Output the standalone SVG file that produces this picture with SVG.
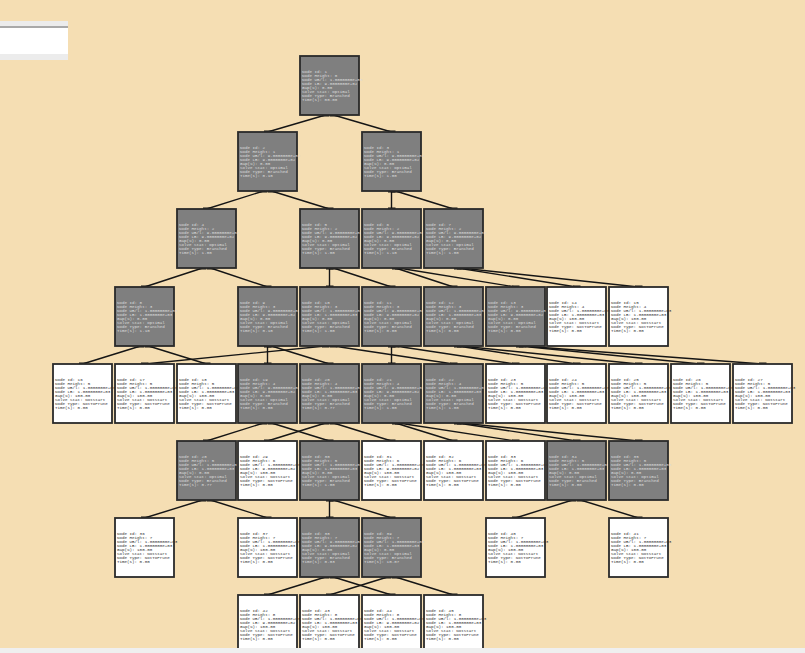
<svg xmlns="http://www.w3.org/2000/svg" width="805" height="653" viewBox="0 0 805 653">
<style>
.n rect{stroke:#2a2a2a;stroke-width:1.8}
.gy rect{fill:#7f7f7f}
.wh rect{fill:#ffffff}
.n text{font-family:"Liberation Mono",monospace;font-size:4.2px}
.gy text{fill:#dcdcdc}
.wh text{fill:#333333}
#edges path{stroke:#151515;stroke-width:1.4;fill:none;marker-start:url(#tk);marker-end:url(#tk)}
</style>
<defs>
<marker id="tk" markerUnits="userSpaceOnUse" markerWidth="8" markerHeight="4" refX="4" refY="2" orient="0"><rect x="0" y="0.5" width="8" height="3" fill="#111"/></marker>
</defs>
<rect width="805" height="653" fill="#f5deb3"/>
<g id="widget">
<rect x="0" y="21" width="68" height="39" fill="#ffffff"/>
<rect x="0" y="21" width="68" height="5" fill="#ececec"/>
<rect x="0" y="26" width="68" height="2" fill="#a9a9a9"/>
<rect x="0" y="54" width="68" height="6" fill="#ececec"/>
</g>
<g id="edges">
<path d="M325.5 115L267.5 132"/><path d="M333.5 115L391.5 132"/>
<path d="M263.5 191L206.5 209"/><path d="M271.5 191L329.5 209"/>
<path d="M391.5 191L391.5 209"/><path d="M395.5 191L453.5 209"/>
<path d="M202.5 268L144.5 287"/><path d="M210.5 268L267.5 287"/>
<path d="M329.5 268L329.5 287"/><path d="M333.5 268L391.5 287"/>
<path d="M395.5 268L453.5 287"/><path d="M398.5 268L515.5 287"/>
<path d="M457.5 268L576.5 287"/><path d="M460.5 268L638.5 287"/>
<path d="M140.5 346L82.5 364"/><path d="M148.5 346L206.5 364"/>
<path d="M267.5 346L267.5 364"/><path d="M271.5 346L329.5 364"/>
<path d="M325.5 346L144.5 364"/><path d="M333.5 346L453.5 364"/>
<path d="M391.5 346L391.5 364"/><path d="M395.5 346L515.5 364"/>
<path d="M457.5 346L576.5 364"/><path d="M460.5 346L638.5 364"/>
<path d="M519.5 346L700.5 364"/><path d="M522.5 346L762.5 364"/>
<path d="M263.5 423L206.5 441"/><path d="M271.5 423L329.5 441"/>
<path d="M325.5 423L267.5 441"/><path d="M333.5 423L391.5 441"/>
<path d="M395.5 423L453.5 441"/><path d="M398.5 423L515.5 441"/>
<path d="M457.5 423L576.5 441"/><path d="M460.5 423L638.5 441"/>
<path d="M202.5 500L144.5 518"/><path d="M210.5 500L267.5 518"/>
<path d="M329.5 500L329.5 518"/><path d="M333.5 500L391.5 518"/>
<path d="M572.5 500L515.5 518"/><path d="M580.5 500L638.5 518"/>
<path d="M325.5 577L267.5 595"/><path d="M333.5 577L391.5 595"/>
<path d="M387.5 577L329.5 595"/><path d="M395.5 577L453.5 595"/>
</g>
<g id="n1" class="n gy" transform="translate(300,56)"><rect width="59" height="59"/><text y="17"><tspan x="2">Node Id: 1</tspan><tspan x="2" dy="4">Node Height: 0</tspan><tspan x="2" dy="4">Node UB/l: 1.0000000e+03</tspan><tspan x="2" dy="4">Node LB: 9.0000000e+02</tspan><tspan x="2" dy="4">Gap(%): 0.00</tspan><tspan x="2" dy="4">Solve Stat: Optimal</tspan><tspan x="2" dy="4">Node Type: Branched</tspan><tspan x="2" dy="4">Time(s): 00.00</tspan></text></g>
<g id="n2" class="n gy" transform="translate(238,132)"><rect width="59" height="59"/><text y="17"><tspan x="2">Node Id: 2</tspan><tspan x="2" dy="4">Node Height: 1</tspan><tspan x="2" dy="4">Node UB/l: 9.0000000e+02</tspan><tspan x="2" dy="4">Node LB: 9.0000000e+02</tspan><tspan x="2" dy="4">Gap(%): 0.00</tspan><tspan x="2" dy="4">Solve Stat: Optimal</tspan><tspan x="2" dy="4">Node Type: Branched</tspan><tspan x="2" dy="4">Time(s): 0.10</tspan></text></g>
<g id="n3" class="n gy" transform="translate(362,132)"><rect width="59" height="59"/><text y="17"><tspan x="2">Node Id: 3</tspan><tspan x="2" dy="4">Node Height: 1</tspan><tspan x="2" dy="4">Node UB/l: 9.0000000e+02</tspan><tspan x="2" dy="4">Node LB: 9.0000000e+02</tspan><tspan x="2" dy="4">Gap(%): 0.00</tspan><tspan x="2" dy="4">Solve Stat: Optimal</tspan><tspan x="2" dy="4">Node Type: Branched</tspan><tspan x="2" dy="4">Time(s): 1.00</tspan></text></g>
<g id="n4" class="n gy" transform="translate(177,209)"><rect width="59" height="59"/><text y="17"><tspan x="2">Node Id: 4</tspan><tspan x="2" dy="4">Node Height: 2</tspan><tspan x="2" dy="4">Node UB/l: 9.0000000e+02</tspan><tspan x="2" dy="4">Node LB: 9.0000000e+02</tspan><tspan x="2" dy="4">Gap(%): 0.00</tspan><tspan x="2" dy="4">Solve Stat: Optimal</tspan><tspan x="2" dy="4">Node Type: Branched</tspan><tspan x="2" dy="4">Time(s): 1.00</tspan></text></g>
<g id="n5" class="n gy" transform="translate(300,209)"><rect width="59" height="59"/><text y="17"><tspan x="2">Node Id: 5</tspan><tspan x="2" dy="4">Node Height: 2</tspan><tspan x="2" dy="4">Node UB/l: 9.0000000e+02</tspan><tspan x="2" dy="4">Node LB: 9.0000000e+02</tspan><tspan x="2" dy="4">Gap(%): 0.00</tspan><tspan x="2" dy="4">Solve Stat: Optimal</tspan><tspan x="2" dy="4">Node Type: Branched</tspan><tspan x="2" dy="4">Time(s): 1.00</tspan></text></g>
<g id="n6" class="n gy" transform="translate(362,209)"><rect width="59" height="59"/><text y="17"><tspan x="2">Node Id: 6</tspan><tspan x="2" dy="4">Node Height: 2</tspan><tspan x="2" dy="4">Node UB/l: 9.0000000e+02</tspan><tspan x="2" dy="4">Node LB: 9.0000000e+02</tspan><tspan x="2" dy="4">Gap(%): 0.00</tspan><tspan x="2" dy="4">Solve Stat: Optimal</tspan><tspan x="2" dy="4">Node Type: Branched</tspan><tspan x="2" dy="4">Time(s): 1.10</tspan></text></g>
<g id="n7" class="n gy" transform="translate(424,209)"><rect width="59" height="59"/><text y="17"><tspan x="2">Node Id: 7</tspan><tspan x="2" dy="4">Node Height: 2</tspan><tspan x="2" dy="4">Node UB/l: 9.0000000e+02</tspan><tspan x="2" dy="4">Node LB: 9.0000000e+02</tspan><tspan x="2" dy="4">Gap(%): 0.00</tspan><tspan x="2" dy="4">Solve Stat: Optimal</tspan><tspan x="2" dy="4">Node Type: Branched</tspan><tspan x="2" dy="4">Time(s): 1.00</tspan></text></g>
<g id="n8" class="n gy" transform="translate(115,287)"><rect width="59" height="59"/><text y="17"><tspan x="2">Node Id: 8</tspan><tspan x="2" dy="4">Node Height: 3</tspan><tspan x="2" dy="4">Node UB/l: 1.0000000e+03</tspan><tspan x="2" dy="4">Node LB: 1.0000000e+03</tspan><tspan x="2" dy="4">Gap(%): 0.00</tspan><tspan x="2" dy="4">Solve Stat: Optimal</tspan><tspan x="2" dy="4">Node Type: Branched</tspan><tspan x="2" dy="4">Time(s): 1.10</tspan></text></g>
<g id="n9" class="n gy" transform="translate(238,287)"><rect width="59" height="59"/><text y="17"><tspan x="2">Node Id: 9</tspan><tspan x="2" dy="4">Node Height: 3</tspan><tspan x="2" dy="4">Node UB/l: 9.0000000e+02</tspan><tspan x="2" dy="4">Node LB: 9.0000000e+02</tspan><tspan x="2" dy="4">Gap(%): 0.00</tspan><tspan x="2" dy="4">Solve Stat: Optimal</tspan><tspan x="2" dy="4">Node Type: Branched</tspan><tspan x="2" dy="4">Time(s): 0.10</tspan></text></g>
<g id="n10" class="n gy" transform="translate(300,287)"><rect width="59" height="59"/><text y="17"><tspan x="2">Node Id: 10</tspan><tspan x="2" dy="4">Node Height: 3</tspan><tspan x="2" dy="4">Node UB/l: 1.0000000e+03</tspan><tspan x="2" dy="4">Node LB: 1.0000000e+03</tspan><tspan x="2" dy="4">Gap(%): 0.00</tspan><tspan x="2" dy="4">Solve Stat: Optimal</tspan><tspan x="2" dy="4">Node Type: Branched</tspan><tspan x="2" dy="4">Time(s): 1.00</tspan></text></g>
<g id="n11" class="n gy" transform="translate(362,287)"><rect width="59" height="59"/><text y="17"><tspan x="2">Node Id: 11</tspan><tspan x="2" dy="4">Node Height: 3</tspan><tspan x="2" dy="4">Node UB/l: 9.0000000e+02</tspan><tspan x="2" dy="4">Node LB: 9.0000000e+02</tspan><tspan x="2" dy="4">Gap(%): 0.00</tspan><tspan x="2" dy="4">Solve Stat: Optimal</tspan><tspan x="2" dy="4">Node Type: Branched</tspan><tspan x="2" dy="4">Time(s): 0.00</tspan></text></g>
<g id="n12" class="n gy" transform="translate(424,287)"><rect width="59" height="59"/><text y="17"><tspan x="2">Node Id: 12</tspan><tspan x="2" dy="4">Node Height: 3</tspan><tspan x="2" dy="4">Node UB/l: 1.0000000e+03</tspan><tspan x="2" dy="4">Node LB: 1.0000000e+03</tspan><tspan x="2" dy="4">Gap(%): 0.00</tspan><tspan x="2" dy="4">Solve Stat: Optimal</tspan><tspan x="2" dy="4">Node Type: Branched</tspan><tspan x="2" dy="4">Time(s): 0.00</tspan></text></g>
<g id="n13" class="n gy" transform="translate(486,287)"><rect width="59" height="59"/><text y="17"><tspan x="2">Node Id: 13</tspan><tspan x="2" dy="4">Node Height: 3</tspan><tspan x="2" dy="4">Node UB/l: 9.0000000e+02</tspan><tspan x="2" dy="4">Node LB: 9.0000000e+02</tspan><tspan x="2" dy="4">Gap(%): 0.00</tspan><tspan x="2" dy="4">Solve Stat: Optimal</tspan><tspan x="2" dy="4">Node Type: Branched</tspan><tspan x="2" dy="4">Time(s): 0.00</tspan></text></g>
<g id="n14" class="n wh" transform="translate(547,287)"><rect width="59" height="59"/><text y="17"><tspan x="2">Node Id: 14</tspan><tspan x="2" dy="4">Node Height: 4</tspan><tspan x="2" dy="4">Node UB/l: 1.0000000e+03</tspan><tspan x="2" dy="4">Node LB: 1.0000000e+03</tspan><tspan x="2" dy="4">Gap(%): 100.00</tspan><tspan x="2" dy="4">Solve Stat: NotStart</tspan><tspan x="2" dy="4">Node Type: NotToPrune</tspan><tspan x="2" dy="4">Time(s): 0.00</tspan></text></g>
<g id="n15" class="n wh" transform="translate(609,287)"><rect width="59" height="59"/><text y="17"><tspan x="2">Node Id: 15</tspan><tspan x="2" dy="4">Node Height: 4</tspan><tspan x="2" dy="4">Node UB/l: 1.0000000e+03</tspan><tspan x="2" dy="4">Node LB: 1.0000000e+03</tspan><tspan x="2" dy="4">Gap(%): 100.00</tspan><tspan x="2" dy="4">Solve Stat: NotStart</tspan><tspan x="2" dy="4">Node Type: NotToPrune</tspan><tspan x="2" dy="4">Time(s): 0.00</tspan></text></g>
<g id="n16" class="n wh" transform="translate(53,364)"><rect width="59" height="59"/><text y="17"><tspan x="2">Node Id: 16</tspan><tspan x="2" dy="4">Node Height: 5</tspan><tspan x="2" dy="4">Node UB/l: 1.0000000e+03</tspan><tspan x="2" dy="4">Node LB: 1.0000000e+03</tspan><tspan x="2" dy="4">Gap(%): 100.00</tspan><tspan x="2" dy="4">Solve Stat: NotStart</tspan><tspan x="2" dy="4">Node Type: NotToPrune</tspan><tspan x="2" dy="4">Time(s): 0.00</tspan></text></g>
<g id="n17" class="n wh" transform="translate(115,364)"><rect width="59" height="59"/><text y="17"><tspan x="2">Node Id: 17</tspan><tspan x="2" dy="4">Node Height: 5</tspan><tspan x="2" dy="4">Node UB/l: 1.0000000e+03</tspan><tspan x="2" dy="4">Node LB: 1.0000000e+03</tspan><tspan x="2" dy="4">Gap(%): 100.00</tspan><tspan x="2" dy="4">Solve Stat: NotStart</tspan><tspan x="2" dy="4">Node Type: NotToPrune</tspan><tspan x="2" dy="4">Time(s): 0.00</tspan></text></g>
<g id="n18" class="n wh" transform="translate(177,364)"><rect width="59" height="59"/><text y="17"><tspan x="2">Node Id: 18</tspan><tspan x="2" dy="4">Node Height: 5</tspan><tspan x="2" dy="4">Node UB/l: 1.0000000e+03</tspan><tspan x="2" dy="4">Node LB: 1.0000000e+03</tspan><tspan x="2" dy="4">Gap(%): 100.00</tspan><tspan x="2" dy="4">Solve Stat: NotStart</tspan><tspan x="2" dy="4">Node Type: NotToPrune</tspan><tspan x="2" dy="4">Time(s): 0.00</tspan></text></g>
<g id="n19" class="n gy" transform="translate(238,364)"><rect width="59" height="59"/><text y="17"><tspan x="2">Node Id: 19</tspan><tspan x="2" dy="4">Node Height: 4</tspan><tspan x="2" dy="4">Node UB/l: 9.0000000e+02</tspan><tspan x="2" dy="4">Node LB: 9.0000000e+02</tspan><tspan x="2" dy="4">Gap(%): 0.00</tspan><tspan x="2" dy="4">Solve Stat: Optimal</tspan><tspan x="2" dy="4">Node Type: Branched</tspan><tspan x="2" dy="4">Time(s): 0.00</tspan></text></g>
<g id="n20" class="n gy" transform="translate(300,364)"><rect width="59" height="59"/><text y="17"><tspan x="2">Node Id: 20</tspan><tspan x="2" dy="4">Node Height: 4</tspan><tspan x="2" dy="4">Node UB/l: 1.0000000e+03</tspan><tspan x="2" dy="4">Node LB: 1.0000000e+03</tspan><tspan x="2" dy="4">Gap(%): 0.00</tspan><tspan x="2" dy="4">Solve Stat: Optimal</tspan><tspan x="2" dy="4">Node Type: Branched</tspan><tspan x="2" dy="4">Time(s): 0.77</tspan></text></g>
<g id="n21" class="n gy" transform="translate(362,364)"><rect width="59" height="59"/><text y="17"><tspan x="2">Node Id: 21</tspan><tspan x="2" dy="4">Node Height: 4</tspan><tspan x="2" dy="4">Node UB/l: 9.0000000e+02</tspan><tspan x="2" dy="4">Node LB: 9.0000000e+02</tspan><tspan x="2" dy="4">Gap(%): 0.00</tspan><tspan x="2" dy="4">Solve Stat: Optimal</tspan><tspan x="2" dy="4">Node Type: Branched</tspan><tspan x="2" dy="4">Time(s): 1.00</tspan></text></g>
<g id="n22" class="n gy" transform="translate(424,364)"><rect width="59" height="59"/><text y="17"><tspan x="2">Node Id: 22</tspan><tspan x="2" dy="4">Node Height: 4</tspan><tspan x="2" dy="4">Node UB/l: 1.0000000e+03</tspan><tspan x="2" dy="4">Node LB: 1.0000000e+03</tspan><tspan x="2" dy="4">Gap(%): 0.00</tspan><tspan x="2" dy="4">Solve Stat: Optimal</tspan><tspan x="2" dy="4">Node Type: Branched</tspan><tspan x="2" dy="4">Time(s): 1.00</tspan></text></g>
<g id="n23" class="n wh" transform="translate(486,364)"><rect width="59" height="59"/><text y="17"><tspan x="2">Node Id: 23</tspan><tspan x="2" dy="4">Node Height: 5</tspan><tspan x="2" dy="4">Node UB/l: 1.0000000e+03</tspan><tspan x="2" dy="4">Node LB: 1.0000000e+03</tspan><tspan x="2" dy="4">Gap(%): 100.00</tspan><tspan x="2" dy="4">Solve Stat: NotStart</tspan><tspan x="2" dy="4">Node Type: NotToPrune</tspan><tspan x="2" dy="4">Time(s): 0.00</tspan></text></g>
<g id="n24" class="n wh" transform="translate(547,364)"><rect width="59" height="59"/><text y="17"><tspan x="2">Node Id: 24</tspan><tspan x="2" dy="4">Node Height: 5</tspan><tspan x="2" dy="4">Node UB/l: 1.0000000e+03</tspan><tspan x="2" dy="4">Node LB: 1.0000000e+03</tspan><tspan x="2" dy="4">Gap(%): 100.00</tspan><tspan x="2" dy="4">Solve Stat: NotStart</tspan><tspan x="2" dy="4">Node Type: NotToPrune</tspan><tspan x="2" dy="4">Time(s): 0.00</tspan></text></g>
<g id="n25" class="n wh" transform="translate(609,364)"><rect width="59" height="59"/><text y="17"><tspan x="2">Node Id: 25</tspan><tspan x="2" dy="4">Node Height: 5</tspan><tspan x="2" dy="4">Node UB/l: 1.0000000e+03</tspan><tspan x="2" dy="4">Node LB: 1.0000000e+03</tspan><tspan x="2" dy="4">Gap(%): 100.00</tspan><tspan x="2" dy="4">Solve Stat: NotStart</tspan><tspan x="2" dy="4">Node Type: NotToPrune</tspan><tspan x="2" dy="4">Time(s): 0.00</tspan></text></g>
<g id="n26" class="n wh" transform="translate(671,364)"><rect width="59" height="59"/><text y="17"><tspan x="2">Node Id: 26</tspan><tspan x="2" dy="4">Node Height: 5</tspan><tspan x="2" dy="4">Node UB/l: 1.0000000e+03</tspan><tspan x="2" dy="4">Node LB: 1.0000000e+03</tspan><tspan x="2" dy="4">Gap(%): 100.00</tspan><tspan x="2" dy="4">Solve Stat: NotStart</tspan><tspan x="2" dy="4">Node Type: NotToPrune</tspan><tspan x="2" dy="4">Time(s): 0.00</tspan></text></g>
<g id="n27" class="n wh" transform="translate(733,364)"><rect width="59" height="59"/><text y="17"><tspan x="2">Node Id: 27</tspan><tspan x="2" dy="4">Node Height: 5</tspan><tspan x="2" dy="4">Node UB/l: 1.0000000e+03</tspan><tspan x="2" dy="4">Node LB: 1.0000000e+03</tspan><tspan x="2" dy="4">Gap(%): 100.00</tspan><tspan x="2" dy="4">Solve Stat: NotStart</tspan><tspan x="2" dy="4">Node Type: NotToPrune</tspan><tspan x="2" dy="4">Time(s): 0.00</tspan></text></g>
<g id="n28" class="n gy" transform="translate(177,441)"><rect width="59" height="59"/><text y="17"><tspan x="2">Node Id: 28</tspan><tspan x="2" dy="4">Node Height: 5</tspan><tspan x="2" dy="4">Node UB/l: 1.0000000e+03</tspan><tspan x="2" dy="4">Node LB: 1.0000000e+03</tspan><tspan x="2" dy="4">Gap(%): 0.00</tspan><tspan x="2" dy="4">Solve Stat: Optimal</tspan><tspan x="2" dy="4">Node Type: Branched</tspan><tspan x="2" dy="4">Time(s): 0.77</tspan></text></g>
<g id="n29" class="n wh" transform="translate(238,441)"><rect width="59" height="59"/><text y="17"><tspan x="2">Node Id: 29</tspan><tspan x="2" dy="4">Node Height: 6</tspan><tspan x="2" dy="4">Node UB/l: 1.0000000e+03</tspan><tspan x="2" dy="4">Node LB: 9.0000000e+02</tspan><tspan x="2" dy="4">Gap(%): 100.00</tspan><tspan x="2" dy="4">Solve Stat: NotStart</tspan><tspan x="2" dy="4">Node Type: NotToPrune</tspan><tspan x="2" dy="4">Time(s): 0.00</tspan></text></g>
<g id="n30" class="n gy" transform="translate(300,441)"><rect width="59" height="59"/><text y="17"><tspan x="2">Node Id: 30</tspan><tspan x="2" dy="4">Node Height: 5</tspan><tspan x="2" dy="4">Node UB/l: 1.0000000e+03</tspan><tspan x="2" dy="4">Node LB: 1.0000000e+03</tspan><tspan x="2" dy="4">Gap(%): 0.00</tspan><tspan x="2" dy="4">Solve Stat: Optimal</tspan><tspan x="2" dy="4">Node Type: Branched</tspan><tspan x="2" dy="4">Time(s): 1.00</tspan></text></g>
<g id="n31" class="n wh" transform="translate(362,441)"><rect width="59" height="59"/><text y="17"><tspan x="2">Node Id: 31</tspan><tspan x="2" dy="4">Node Height: 6</tspan><tspan x="2" dy="4">Node UB/l: 1.0000000e+03</tspan><tspan x="2" dy="4">Node LB: 9.0000000e+02</tspan><tspan x="2" dy="4">Gap(%): 100.00</tspan><tspan x="2" dy="4">Solve Stat: NotStart</tspan><tspan x="2" dy="4">Node Type: NotToPrune</tspan><tspan x="2" dy="4">Time(s): 0.00</tspan></text></g>
<g id="n32" class="n wh" transform="translate(424,441)"><rect width="59" height="59"/><text y="17"><tspan x="2">Node Id: 32</tspan><tspan x="2" dy="4">Node Height: 6</tspan><tspan x="2" dy="4">Node UB/l: 1.0000000e+03</tspan><tspan x="2" dy="4">Node LB: 1.0000000e+03</tspan><tspan x="2" dy="4">Gap(%): 100.00</tspan><tspan x="2" dy="4">Solve Stat: NotStart</tspan><tspan x="2" dy="4">Node Type: NotToPrune</tspan><tspan x="2" dy="4">Time(s): 0.00</tspan></text></g>
<g id="n33" class="n wh" transform="translate(486,441)"><rect width="59" height="59"/><text y="17"><tspan x="2">Node Id: 33</tspan><tspan x="2" dy="4">Node Height: 6</tspan><tspan x="2" dy="4">Node UB/l: 1.0000000e+03</tspan><tspan x="2" dy="4">Node LB: 1.0000000e+03</tspan><tspan x="2" dy="4">Gap(%): 100.00</tspan><tspan x="2" dy="4">Solve Stat: NotStart</tspan><tspan x="2" dy="4">Node Type: NotToPrune</tspan><tspan x="2" dy="4">Time(s): 0.00</tspan></text></g>
<g id="n34" class="n gy" transform="translate(547,441)"><rect width="59" height="59"/><text y="17"><tspan x="2">Node Id: 34</tspan><tspan x="2" dy="4">Node Height: 5</tspan><tspan x="2" dy="4">Node UB/l: 1.0000000e+03</tspan><tspan x="2" dy="4">Node LB: 1.0000000e+03</tspan><tspan x="2" dy="4">Gap(%): 0.00</tspan><tspan x="2" dy="4">Solve Stat: Optimal</tspan><tspan x="2" dy="4">Node Type: Branched</tspan><tspan x="2" dy="4">Time(s): 0.00</tspan></text></g>
<g id="n35" class="n gy" transform="translate(609,441)"><rect width="59" height="59"/><text y="17"><tspan x="2">Node Id: 35</tspan><tspan x="2" dy="4">Node Height: 5</tspan><tspan x="2" dy="4">Node UB/l: 1.0000000e+03</tspan><tspan x="2" dy="4">Node LB: 1.0000000e+03</tspan><tspan x="2" dy="4">Gap(%): 0.00</tspan><tspan x="2" dy="4">Solve Stat: Optimal</tspan><tspan x="2" dy="4">Node Type: Branched</tspan><tspan x="2" dy="4">Time(s): 0.00</tspan></text></g>
<g id="n36" class="n wh" transform="translate(115,518)"><rect width="59" height="59"/><text y="17"><tspan x="2">Node Id: 36</tspan><tspan x="2" dy="4">Node Height: 7</tspan><tspan x="2" dy="4">Node UB/l: 1.0000000e+03</tspan><tspan x="2" dy="4">Node LB: 1.0000000e+03</tspan><tspan x="2" dy="4">Gap(%): 100.00</tspan><tspan x="2" dy="4">Solve Stat: NotStart</tspan><tspan x="2" dy="4">Node Type: NotToPrune</tspan><tspan x="2" dy="4">Time(s): 0.00</tspan></text></g>
<g id="n37" class="n wh" transform="translate(238,518)"><rect width="59" height="59"/><text y="17"><tspan x="2">Node Id: 37</tspan><tspan x="2" dy="4">Node Height: 7</tspan><tspan x="2" dy="4">Node UB/l: 1.0000000e+03</tspan><tspan x="2" dy="4">Node LB: 1.0000000e+03</tspan><tspan x="2" dy="4">Gap(%): 100.00</tspan><tspan x="2" dy="4">Solve Stat: NotStart</tspan><tspan x="2" dy="4">Node Type: NotToPrune</tspan><tspan x="2" dy="4">Time(s): 0.00</tspan></text></g>
<g id="n38" class="n gy" transform="translate(300,518)"><rect width="59" height="59"/><text y="17"><tspan x="2">Node Id: 38</tspan><tspan x="2" dy="4">Node Height: 7</tspan><tspan x="2" dy="4">Node UB/l: 9.0000000e+02</tspan><tspan x="2" dy="4">Node LB: 9.0000000e+02</tspan><tspan x="2" dy="4">Gap(%): 0.00</tspan><tspan x="2" dy="4">Solve Stat: Optimal</tspan><tspan x="2" dy="4">Node Type: Branched</tspan><tspan x="2" dy="4">Time(s): 0.03</tspan></text></g>
<g id="n39" class="n gy" transform="translate(362,518)"><rect width="59" height="59"/><text y="17"><tspan x="2">Node Id: 39</tspan><tspan x="2" dy="4">Node Height: 7</tspan><tspan x="2" dy="4">Node UB/l: 1.0000000e+03</tspan><tspan x="2" dy="4">Node LB: 1.0000000e+03</tspan><tspan x="2" dy="4">Gap(%): 0.00</tspan><tspan x="2" dy="4">Solve Stat: Optimal</tspan><tspan x="2" dy="4">Node Type: Branched</tspan><tspan x="2" dy="4">Time(s): 10.07</tspan></text></g>
<g id="n40" class="n wh" transform="translate(486,518)"><rect width="59" height="59"/><text y="17"><tspan x="2">Node Id: 40</tspan><tspan x="2" dy="4">Node Height: 7</tspan><tspan x="2" dy="4">Node UB/l: 1.0000000e+03</tspan><tspan x="2" dy="4">Node LB: 1.0000000e+03</tspan><tspan x="2" dy="4">Gap(%): 100.00</tspan><tspan x="2" dy="4">Solve Stat: NotStart</tspan><tspan x="2" dy="4">Node Type: NotToPrune</tspan><tspan x="2" dy="4">Time(s): 0.00</tspan></text></g>
<g id="n41" class="n wh" transform="translate(609,518)"><rect width="59" height="59"/><text y="17"><tspan x="2">Node Id: 41</tspan><tspan x="2" dy="4">Node Height: 7</tspan><tspan x="2" dy="4">Node UB/l: 1.0000000e+03</tspan><tspan x="2" dy="4">Node LB: 1.0000000e+03</tspan><tspan x="2" dy="4">Gap(%): 100.00</tspan><tspan x="2" dy="4">Solve Stat: NotStart</tspan><tspan x="2" dy="4">Node Type: NotToPrune</tspan><tspan x="2" dy="4">Time(s): 0.00</tspan></text></g>
<g id="n42" class="n wh" transform="translate(238,595)"><rect width="59" height="59"/><text y="17"><tspan x="2">Node Id: 42</tspan><tspan x="2" dy="4">Node Height: 8</tspan><tspan x="2" dy="4">Node UB/l: 1.0000000e+03</tspan><tspan x="2" dy="4">Node LB: 9.0000000e+02</tspan><tspan x="2" dy="4">Gap(%): 100.00</tspan><tspan x="2" dy="4">Solve Stat: NotStart</tspan><tspan x="2" dy="4">Node Type: NotToPrune</tspan><tspan x="2" dy="4">Time(s): 0.00</tspan></text></g>
<g id="n43" class="n wh" transform="translate(300,595)"><rect width="59" height="59"/><text y="17"><tspan x="2">Node Id: 43</tspan><tspan x="2" dy="4">Node Height: 8</tspan><tspan x="2" dy="4">Node UB/l: 1.0000000e+03</tspan><tspan x="2" dy="4">Node LB: 1.0000000e+03</tspan><tspan x="2" dy="4">Gap(%): 100.00</tspan><tspan x="2" dy="4">Solve Stat: NotStart</tspan><tspan x="2" dy="4">Node Type: NotToPrune</tspan><tspan x="2" dy="4">Time(s): 0.00</tspan></text></g>
<g id="n44" class="n wh" transform="translate(362,595)"><rect width="59" height="59"/><text y="17"><tspan x="2">Node Id: 44</tspan><tspan x="2" dy="4">Node Height: 8</tspan><tspan x="2" dy="4">Node UB/l: 1.0000000e+03</tspan><tspan x="2" dy="4">Node LB: 9.0000000e+02</tspan><tspan x="2" dy="4">Gap(%): 100.00</tspan><tspan x="2" dy="4">Solve Stat: NotStart</tspan><tspan x="2" dy="4">Node Type: NotToPrune</tspan><tspan x="2" dy="4">Time(s): 0.00</tspan></text></g>
<g id="n45" class="n wh" transform="translate(424,595)"><rect width="59" height="59"/><text y="17"><tspan x="2">Node Id: 45</tspan><tspan x="2" dy="4">Node Height: 8</tspan><tspan x="2" dy="4">Node UB/l: 1.0000000e+03</tspan><tspan x="2" dy="4">Node LB: 1.0000000e+03</tspan><tspan x="2" dy="4">Gap(%): 100.00</tspan><tspan x="2" dy="4">Solve Stat: NotStart</tspan><tspan x="2" dy="4">Node Type: NotToPrune</tspan><tspan x="2" dy="4">Time(s): 0.00</tspan></text></g>
<rect x="0" y="648" width="805" height="5" fill="#efefef"/>
</svg>
